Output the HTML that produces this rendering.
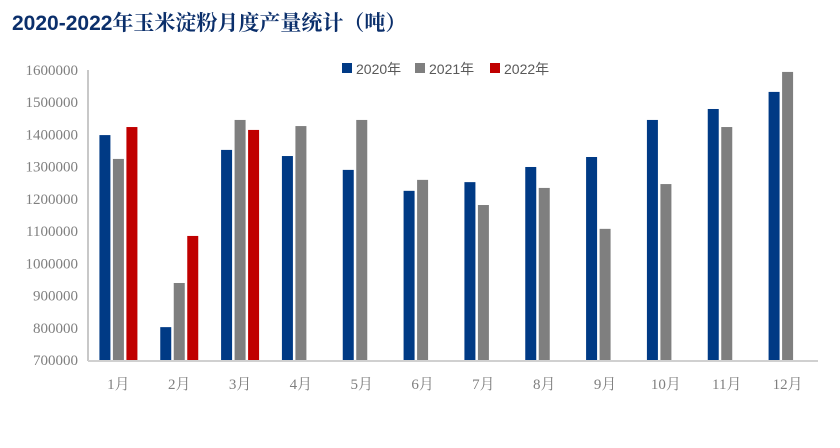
<!DOCTYPE html>
<html><head><meta charset="utf-8"><style>
body{margin:0;background:#fff;width:840px;height:443px;overflow:hidden}
svg text{font-family:"Liberation Serif","Noto Serif CJK SC",serif}
</style></head><body>
<svg id="c" width="840" height="443">
<text x="12" y="30" font-size="21" font-weight="bold" fill="#0b2f6b" style="font-family:'Liberation Sans','Noto Serif CJK SC',sans-serif">2020-2022年玉米淀粉月度产量统计（吨）</text>
<g id="legend"></g>
<g id="plot"></g>
</svg>
<script>
const categories=["1月","2月","3月","4月","5月","6月","7月","8月","9月","10月","11月","12月"];
const s2020=[1398000,802000,1352000,1333000,1290000,1225000,1252000,1299000,1330000,1445000,1479000,1532000];
const s2021=[1324000,939000,1445000,1426000,1445000,1259000,1181000,1234000,1107000,1246000,1423000,1594000];
const s2022=[1423000,1085000,1414000,null,null,null,null,null,null,null,null,null];
const seriesNames=["2020年","2021年","2022年"];
const yTicks=[700000,800000,900000,1000000,1100000,1200000,1300000,1400000,1500000,1600000];
const NS="http://www.w3.org/2000/svg";
const svg=document.getElementById('plot');
const colors=["#003a85","#7f7f7f","#c00000"];
const x0=88,x1=818,yb=360,yt=70,vmin=700000,vmax=1600000;
const y=v=>yb-(v-vmin)/(vmax-vmin)*(yb-yt);
const bw=(x1-x0)/categories.length;
function mk(t,a){const e=document.createElementNS(NS,t);for(const k in a)e.setAttribute(k,a[k]);return e;}
yTicks.forEach(v=>{const t=mk('text',{x:78,y:y(v)+5,'text-anchor':'end','font-size':15,fill:'#7f7f7f'});t.textContent=v;


svg.appendChild(t);});
const ax=mk('line',{x1:x0,y1:yt,x2:x0,y2:yb+1,stroke:'#c8c8c8','stroke-width':2});


svg.appendChild(ax);
const bx=mk('line',{x1:x0,y1:yb+1,x2:x1,y2:yb+1,stroke:'#d0d0d0','stroke-width':2});


svg.appendChild(bx);
const series=[s2020,s2021,s2022];
categories.forEach((c,i)=>{
 const cx=x0+bw*(i+0.5);
 series.forEach((s,j)=>{
  if(s[i]==null)return;
  const bx0=cx-19+j*13.5;
  const r=mk('rect',{x:bx0,y:y(s[i]),width:11,height:yb-y(s[i]),fill:colors[j]});
  
  
  svg.appendChild(r);
 });
 const t=mk('text',{x:cx,y:389,'text-anchor':'middle','font-size':15,fill:'#7f7f7f'});t.textContent=c;
 
 
 svg.appendChild(t);
});
const lg=document.getElementById('legend');
const lx=[342,415,490];
seriesNames.forEach((n,j)=>{
 const r=mk('rect',{x:lx[j],y:63,width:10,height:10,fill:colors[j]});
 
 
 lg.appendChild(r);
 const t=mk('text',{x:lx[j]+14,y:74,'font-size':14,fill:'#595959',style:"font-family:'Liberation Sans','Noto Sans CJK SC',sans-serif"});t.textContent=n;
 
 
 lg.appendChild(t);
});
</script>
</body></html>
